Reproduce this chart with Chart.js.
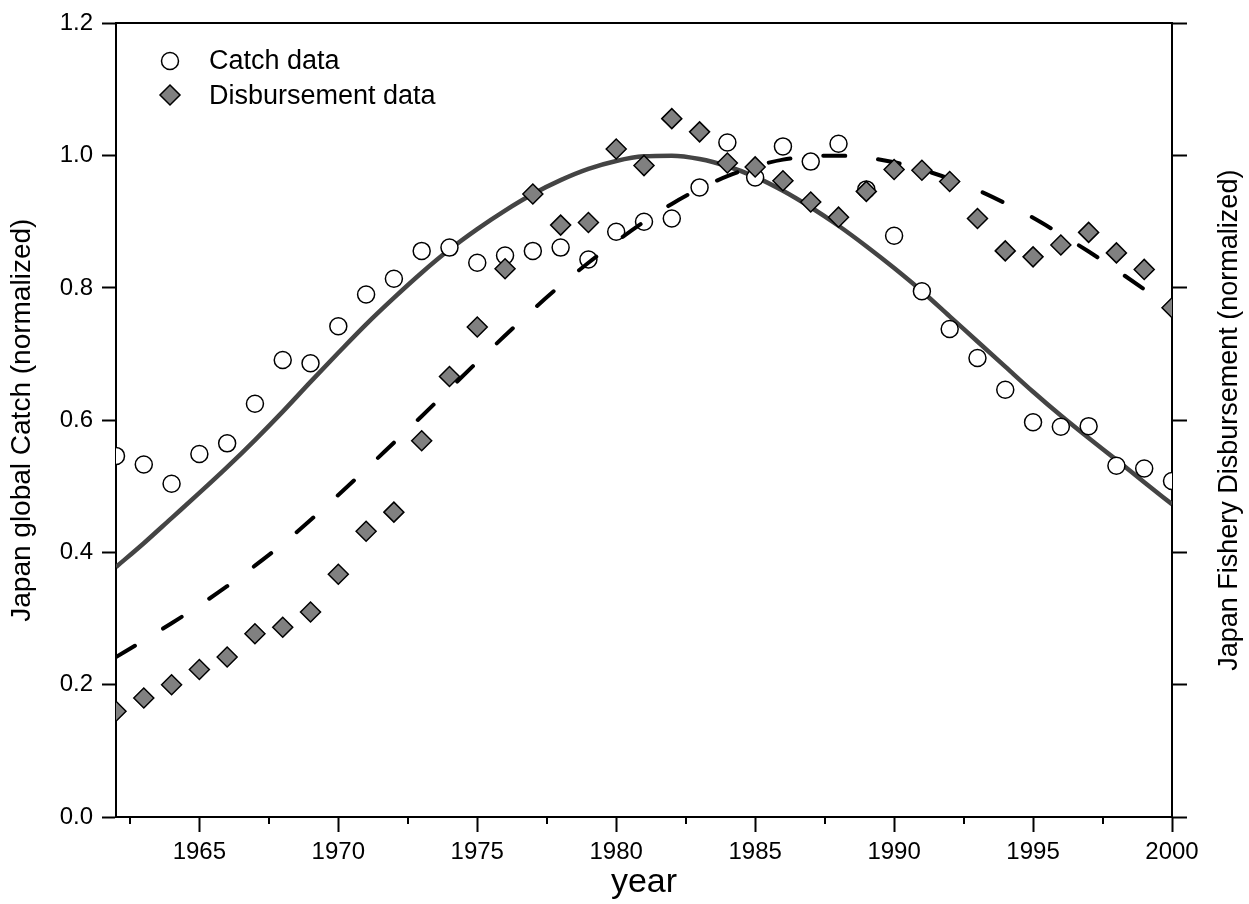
<!DOCTYPE html>
<html>
<head>
<meta charset="utf-8">
<script src="https://cdn.jsdelivr.net/npm/chart.js@4.4.1/dist/chart.umd.min.js"></script>
<style>
  html, body { margin: 0; padding: 0; background: #fff; }
  #wrap { width: 1249px; height: 904px; }
</style>
</head>
<body>
<div id="wrap"><canvas id="c" width="1249" height="904"></canvas></div>
<script>
// ---------------- data ----------------
const years = [1962,1963,1964,1965,1966,1967,1968,1969,1970,1971,1972,1973,1974,1975,1976,1977,1978,1979,1980,1981,1982,1983,1984,1985,1986,1987,1988,1989,1990,1991,1992,1993,1994,1995,1996,1997,1998,1999,2000];

const catchData = [0.546,0.533,0.504,0.549,0.565,0.625,0.691,0.686,0.742,0.790,0.814,0.856,0.861,0.838,0.849,0.856,0.861,0.843,0.885,0.900,0.905,0.952,1.020,0.967,1.014,0.991,1.018,0.949,0.879,0.795,0.738,0.694,0.646,0.597,0.590,0.591,0.531,0.527,0.508];

const disbData = [0.160,0.180,0.200,0.223,0.242,0.277,0.287,0.310,0.367,0.432,0.461,0.569,0.666,0.741,0.829,0.942,0.895,0.899,1.010,0.985,1.056,1.036,0.989,0.983,0.962,0.930,0.907,0.946,0.979,0.978,0.961,0.905,0.856,0.847,0.865,0.884,0.853,0.828,0.770];

const catchFit = [0.378,0.414,0.452,0.490,0.529,0.570,0.613,0.658,0.702,0.745,0.785,0.823,0.858,0.889,0.917,0.942,0.963,0.980,0.992,0.999,1.000,0.995,0.984,0.968,0.947,0.922,0.894,0.863,0.830,0.795,0.757,0.719,0.681,0.643,0.607,0.573,0.540,0.506,0.473];

const disbFit = [0.242,0.267,0.293,0.320,0.349,0.380,0.413,0.449,0.487,0.526,0.566,0.606,0.647,0.688,0.728,0.767,0.804,0.838,0.870,0.900,0.927,0.950,0.969,0.984,0.994,0.999,1.000,0.997,0.990,0.979,0.965,0.948,0.928,0.906,0.881,0.855,0.827,0.798,0.768];

const xTicks = [1965,1970,1975,1980,1985,1990,1995,2000];
const xMinorTicks = [1962.5,1967.5,1972.5,1977.5,1982.5,1987.5,1992.5,1997.5];
const yTicks = [0,0.2,0.4,0.6,0.8,1.0,1.2];

const seriesNames = ['Catch data', 'Disbursement data'];
const xTitle = 'year';
const yTitle = 'Japan global Catch (normalized)';
const y2Title = 'Japan Fishery Disbursement (normalized)';

// ---------------- helpers ----------------
const FONT = "Arial, 'Liberation Sans', sans-serif";
const pts = (ys) => years.map((yr, i) => ({x: yr, y: ys[i]}));

const extrasPlugin = {
  id: 'extras',
  afterDraw(chart) {
    const ctx = chart.ctx;
    const xs = chart.scales.x;
    const area = chart.chartArea;
    ctx.save();
    // minor ticks on x axis
    ctx.strokeStyle = '#000';
    ctx.lineWidth = 2;
    xMinorTicks.forEach(v => {
      const px = Math.round(xs.getPixelForValue(v));
      ctx.beginPath();
      ctx.moveTo(px, area.bottom);
      ctx.lineTo(px, area.bottom + 7);
      ctx.stroke();
    });
    // right axis title (reads bottom to top)
    ctx.fillStyle = '#000';
    ctx.font = '27px ' + FONT;
    ctx.textAlign = 'center';
    ctx.textBaseline = 'middle';
    ctx.translate(1230, (area.top + area.bottom) / 2);
    ctx.rotate(-Math.PI / 2);
    ctx.fillText(y2Title, 0, 0);
    ctx.restore();

    // legend
    ctx.save();
    ctx.lineWidth = 1.5;
    ctx.strokeStyle = '#000';
    ctx.fillStyle = '#fff';
    ctx.beginPath();
    ctx.arc(170, 61, 8.5, 0, Math.PI * 2);
    ctx.fill(); ctx.stroke();
    ctx.fillStyle = '#808080';
    ctx.beginPath();
    ctx.moveTo(170, 85); ctx.lineTo(180, 95); ctx.lineTo(170, 105); ctx.lineTo(160, 95); ctx.closePath();
    ctx.fill(); ctx.stroke();
    ctx.fillStyle = '#000';
    ctx.font = '27px ' + FONT;
    ctx.textAlign = 'left';
    ctx.textBaseline = 'alphabetic';
    ctx.fillText(seriesNames[0], 209, 69);
    ctx.fillText(seriesNames[1], 209, 104);
    ctx.restore();
  }
};

new Chart(document.getElementById('c'), {
  type: 'scatter',
  data: {
    datasets: [
      {
        label: seriesNames[1], data: pts(disbData), order: 0, clip: 0,
        pointStyle: 'rectRot', pointRadius: 10, pointHoverRadius: 10,
        backgroundColor: '#808080', borderColor: '#000', borderWidth: 1.5,
        xAxisID: 'x', yAxisID: 'y'
      },
      {
        label: 'Disbursement fit', data: pts(disbFit), order: 1, clip: 0,
        showLine: true, pointRadius: 0, pointHoverRadius: 0,
        borderColor: '#000', borderWidth: 4, borderDash: [22, 33], borderCapStyle: 'round',
        cubicInterpolationMode: 'monotone', fill: false,
        xAxisID: 'x', yAxisID: 'y'
      },
      {
        label: seriesNames[0], data: pts(catchData), order: 2, clip: 0,
        pointStyle: 'circle', pointRadius: 8.5, pointHoverRadius: 8.5,
        backgroundColor: '#fff', borderColor: '#000', borderWidth: 1.5,
        xAxisID: 'x', yAxisID: 'y'
      },
      {
        label: 'Catch fit', data: pts(catchFit), order: 3, clip: 0,
        showLine: true, pointRadius: 0, pointHoverRadius: 0,
        borderColor: '#444', borderWidth: 4.5,
        cubicInterpolationMode: 'monotone', fill: false,
        xAxisID: 'x', yAxisID: 'y'
      }
    ]
  },
  options: {
    responsive: false,
    animation: false,
    events: [],
    layout: { padding: { top: 22, left: 0, right: 0, bottom: 0 } },
    plugins: { legend: { display: false }, tooltip: { enabled: false } },
    scales: {
      x: {
        type: 'linear', position: 'bottom', min: 1962, max: 2000, z: 1,
        afterBuildTicks: s => { s.ticks = xTicks.map(v => ({ value: v })); },
        afterFit: s => { s.height = 87; },
        grid: { drawOnChartArea: false, tickLength: 15, tickWidth: 2, tickColor: '#000' },
        border: { display: true, color: '#000', width: 2 },
        ticks: { font: { family: FONT, size: 24 }, color: '#000', padding: 6, maxRotation: 0, autoSkip: false, callback: v => String(v) },
        title: { display: true, text: xTitle, font: { family: FONT, size: 34 }, color: '#000', padding: { top: 0, bottom: 1 } }
      },
      x2: {
        type: 'linear', position: 'top', min: 1962, max: 2000, z: 1,
        afterFit: s => { s.height = 0; },
        grid: { drawOnChartArea: false, drawTicks: false },
        border: { display: true, color: '#000', width: 2 },
        ticks: { display: false }
      },
      y: {
        type: 'linear', position: 'left', min: 0, max: 1.2, z: 1,
        afterBuildTicks: s => { s.ticks = yTicks.map(v => ({ value: v })); },
        afterFit: s => { s.width = 116; },
        grid: { drawOnChartArea: false, tickLength: 14, tickWidth: 2, tickColor: '#000' },
        border: { display: true, color: '#000', width: 2 },
        ticks: { font: { family: FONT, size: 24 }, color: '#000', padding: 9, callback: v => Number(v).toFixed(1) },
        title: { display: true, text: yTitle, font: { family: FONT, size: 28 }, color: '#000', padding: { top: 5, bottom: 0 } }
      },
      y2: {
        type: 'linear', position: 'right', min: 0, max: 1.2, z: 1,
        afterBuildTicks: s => { s.ticks = yTicks.map(v => ({ value: v })); },
        afterFit: s => { s.width = 77; },
        grid: { drawOnChartArea: false, tickLength: 15, tickWidth: 2, tickColor: '#000' },
        border: { display: true, color: '#000', width: 2 },
        ticks: { display: false }
      }
    }
  },
  plugins: [extrasPlugin]
});
</script>
</body>
</html>
